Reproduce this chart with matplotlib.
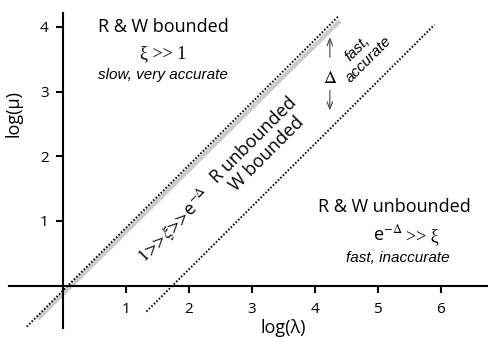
import numpy as np
import matplotlib
matplotlib.use('Agg')
import matplotlib.pyplot as plt

plt.rcParams['font.family'] = ['Open Sans', 'DejaVu Sans']
plt.rcParams['mathtext.fontset'] = 'stix'

# boundary lines: (x start, x end, slope, intercept)
upper_x = [-0.57, 4.37]
upper_slope, upper_icpt = 0.97, -0.08
gray_x = [-0.40, 4.40]
gray_slope, gray_icpt = 0.96, -0.13
lower_x = [1.33, 5.90]
lower_slope, lower_icpt = 0.97, -1.69

xticks = [1, 2, 3, 4, 5, 6]
yticks = [1, 2, 3, 4]

serif = ['Liberation Serif', 'DejaVu Serif']
ital = ['Liberation Sans', 'DejaVu Sans']

fig = plt.figure(figsize=(4.88, 3.39), dpi=100)
ax = fig.add_axes([0, 0, 1, 1])
ax.set_xlim(-0.995, 6.75)
ax.set_ylim(-0.824, 4.416)

for s in ['top', 'right']:
    ax.spines[s].set_visible(False)
ax.spines['left'].set_position(('data', 0))
ax.spines['bottom'].set_position(('data', 0))
ax.spines['left'].set_bounds(-0.65, 4.22)
ax.spines['bottom'].set_bounds(-0.86, 6.75)
for s in ['left', 'bottom']:
    ax.spines[s].set_linewidth(1.5)

ax.set_xticks(xticks)
ax.set_yticks(yticks)
ax.tick_params(direction='out', length=5, width=1.5, labelsize=11, pad=5)
ax.tick_params(axis='x', pad=7)

gx = np.array(gray_x)
ax.plot(gx, gray_slope * gx + gray_icpt, color='#cccccc', lw=3.2, solid_capstyle='butt')
ux = np.array(upper_x)
ax.plot(ux, upper_slope * ux + upper_icpt, color='black', lw=1.4, ls=(0, (0.8, 1.0)))
lx = np.array(lower_x)
ax.plot(lx, lower_slope * lx + lower_icpt, color='black', lw=1.4, ls=(0, (0.8, 1.0)))

ax.text(-0.78, 2.66, 'log(\u03bc)', rotation=90, ha='center', va='center', fontsize=13)
ax.text(3.5, -0.66, 'log(\u03bb)', ha='center', va='center', fontsize=13)

# upper-left region
ax.text(1.59, 4.0, 'R & W bounded', ha='center', va='center', fontsize=13)
ax.text(1.59, 3.58, '\u03be >> 1', ha='center', va='center', fontsize=13, family=serif)
ax.text(1.59, 3.25, 'slow, very accurate', ha='center', va='center', fontsize=11,
        style='italic', family=ital)

# lower-right region
ax.text(5.27, 1.22, 'R & W unbounded', ha='center', va='center', fontsize=13)
ax.text(5.40, 0.80, r'$\mathregular{e}^{-\Delta}$', ha='right', va='center', fontsize=13)
ax.text(5.45, 0.76, '>> \u03be', ha='left', va='center', fontsize=13, family=serif)
ax.text(5.32, 0.43, 'fast, inaccurate', ha='center', va='center', fontsize=11,
        style='italic', family=ital)

# middle band
ax.text(3.14, 2.14, 'R unbounded\nW bounded', rotation=45, ha='center', va='center',
        fontsize=13, linespacing=1.05, rotation_mode='anchor')
ax.text(1.77, 0.92, r'$1\!>\!\!\!>\!\xi\!>\!\!\!>\!\mathregular{e}^{-\Delta}$', rotation=45,
        ha='center', va='center', fontsize=13, rotation_mode='anchor')

arrow = dict(arrowstyle='->, head_length=0.5, head_width=0.2', lw=0.8, color='#444444',
             shrinkA=0, shrinkB=0)
ax.annotate('', xy=(4.24, 3.84), xytext=(4.24, 3.53), arrowprops=arrow)
ax.text(4.24, 3.21, r'$\Delta$', ha='center', va='center', fontsize=13)
ax.annotate('', xy=(4.24, 2.71), xytext=(4.24, 3.02), arrowprops=arrow)
ax.text(4.77, 3.58, 'fast,\naccurate', rotation=45, ha='center', va='center',
        fontsize=11, style='italic', family=ital, linespacing=1.1, rotation_mode='anchor')

fig.savefig('out.png', dpi=100)
